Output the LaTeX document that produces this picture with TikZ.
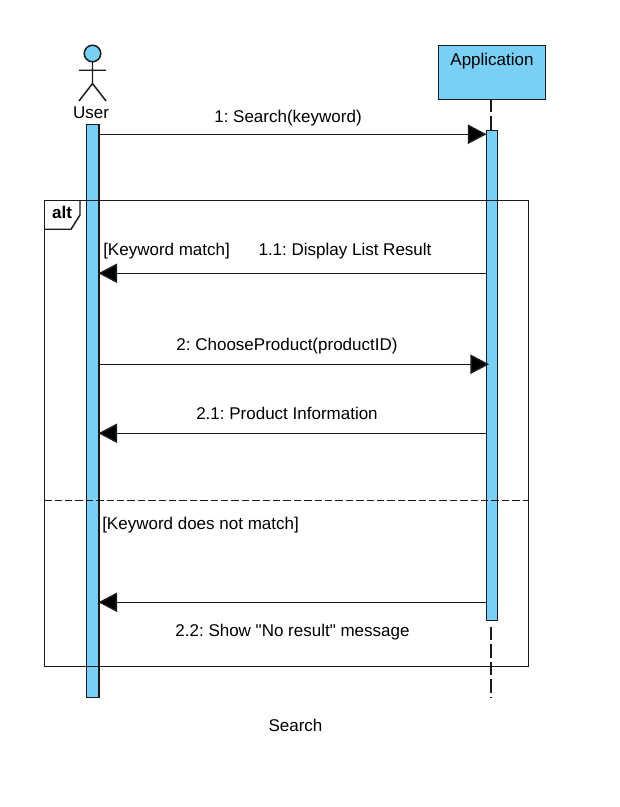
\documentclass[tikz,border=0pt]{standalone}
\usepackage{fontspec}
\newfontfamily\labelfont{Liberation Sans}
\usetikzlibrary{arrows.meta}
\definecolor{lifeblue}{HTML}{7ACFF5}
\definecolor{ink}{HTML}{1A1A1A}
\tikzset{
  px/.style={x=0.75pt,y=-0.75pt},
  thin line/.style={draw=ink,line width=1.1pt},
  barbox/.style={draw=ink,fill=lifeblue,line width=1.1pt,inner sep=0pt,outer sep=0pt,anchor=north west},
  msg/.style={thin line,-{Triangle[length=14pt,width=14.5pt,fill=black]}},
  label/.style={inner sep=0pt,text=black,font=\labelfont\fontsize{12.75pt}{14pt}\selectfont,anchor=base},
  life/.style={draw=ink,line width=1.1pt,dash pattern=on 10pt off 3.1pt},
}
\begin{document}
\frenchspacing
\begin{tikzpicture}[px]
\useasboundingbox (0,0) rectangle (620,807);
\fill[white] (0,0) rectangle (620,807);
% Application lifeline
\node[barbox,minimum width=80.25pt,minimum height=40.5pt] (app) at (438.25,45.25) {};
\node[label] (applabel) at (492,65) {Application};
\coordinate (appTop) at (490.8,99);
\coordinate (appTopEnd) at (490.8,130);
\coordinate (appBot) at (490.8,627);
\coordinate (appEnd) at (490.8,698);
\draw[life] (appTop) -- (appTopEnd);
\draw[life] (appBot) -- (appEnd);
% Activation bars
\node[barbox,minimum width=9.4pt,minimum height=429.75pt] (ubar) at (86.5,124.5) {};
\node[barbox,minimum width=8.25pt,minimum height=367.5pt] (abar) at (486.5,130.5) {};
% Actor
\node[circle,draw=ink,fill=lifeblue,line width=1.1pt,minimum size=12.4pt,inner sep=0pt,outer sep=0pt] (head) at (92.5,53.5) {};
\coordinate (hip) at (92.5,83.5);
\coordinate (armL) at (79,70.25);
\coordinate (armR) at (106,70.25);
\coordinate (legL) at (79,101);
\coordinate (legR) at (106,101);
\draw[thin line] (head.south) -- (hip) (armL) -- (armR) (legL) -- (hip) -- (legR);
\node[label] (user) at (91,118) {User};
% Frame
\node[thin line,minimum width=363pt,minimum height=349.5pt,inner sep=0pt,outer sep=0pt,anchor=north west] (frame) at (44.25,200.25) {};
\coordinate (tabA) at (80,200.25);
\coordinate (tabB) at (80,215);
\coordinate (tabC) at (71,229.25);
\coordinate (tabD) at (44.25,229.25);
\draw[thin line] (tabA) -- (tabB) -- (tabC) -- (tabD);
\node[label,font=\labelfont\bfseries\fontsize{12.75pt}{14pt}\selectfont] (alt) at (62,218) {alt};
\coordinate (sepL) at (44.25,500.3);
\coordinate (sepR) at (528,500.3);
\draw[draw=ink,line width=1.1pt,dash pattern=on 5.5pt off 2.3pt] (sepL) -- (sepR);
% Messages
\foreach \n/\y in {a/134.25,b/273.25,c/364.25,d/433.25,e/602.25}{
  \coordinate (u\n) at (98.5,\y);
  \coordinate (v\n) at (486.5,\y);
}
\coordinate (vc2) at (489,364.25);
\draw[msg] (ua) -- (va);
\draw[msg] (vb) -- (ub);
\draw[msg] (uc) -- (vc2);
\draw[msg] (vd) -- (ud);
\draw[msg] (ve) -- (ue);
% Labels
\node[label] (m1) at (288,122) {1: Search(keyword)};
\node[label,anchor=base west] (g1) at (103,255) {[Keyword match]};
\node[label] (m2) at (345,255) {1.1: Display List Result};
\node[label] (m3) at (287,350) {2: ChooseProduct(productID)};
\node[label] (m4) at (287,419) {2.1: Product Information};
\node[label,anchor=base west] (g2) at (102,529) {[Keyword does not match]};
\node[label] (m5) at (292.5,636) {2.2: Show "No result" message};
\node[label] (cap) at (295.5,731) {Search};
\end{tikzpicture}
\end{document}
